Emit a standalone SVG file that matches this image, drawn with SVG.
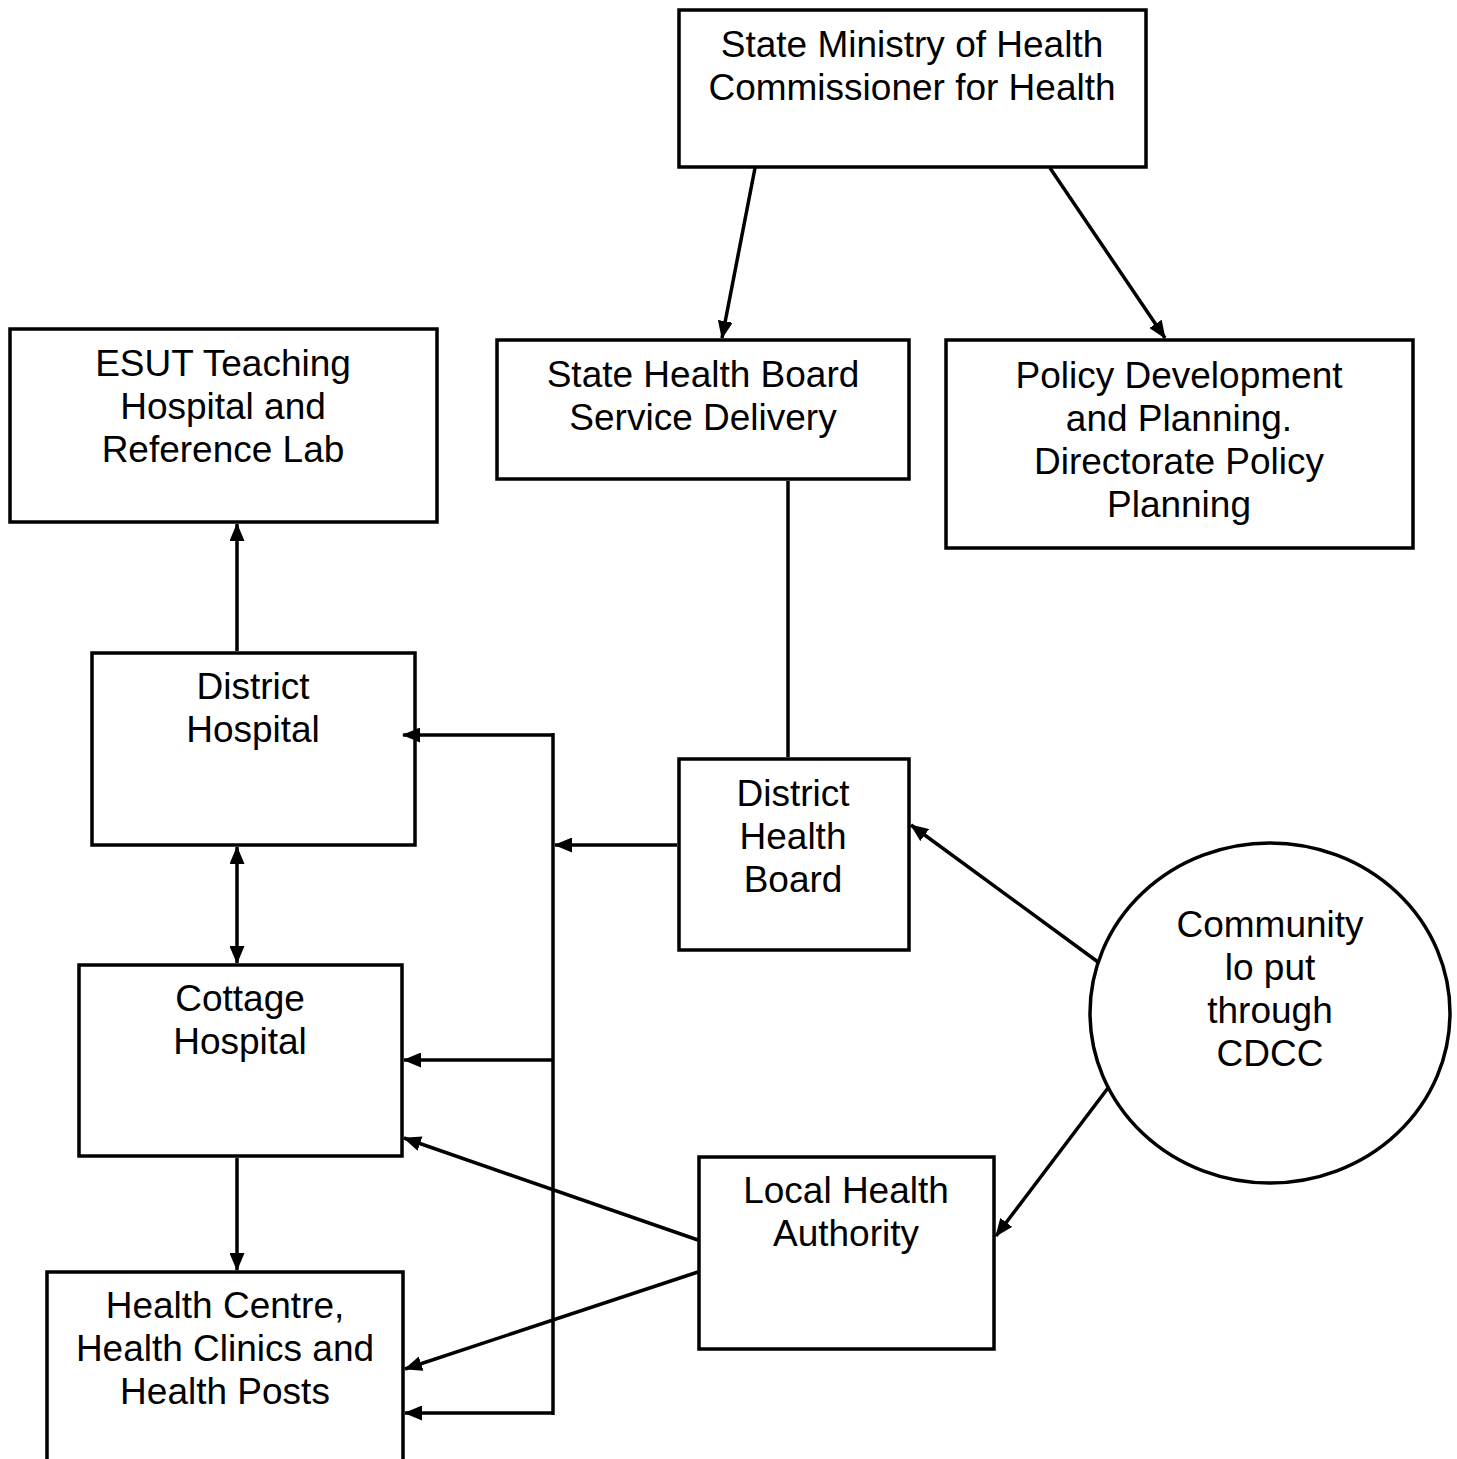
<svg xmlns="http://www.w3.org/2000/svg" width="1457" height="1459" viewBox="0 0 1457 1459">
<style>
.box{fill:#fff;stroke:#000;stroke-width:3.5}
.t{font-family:"Liberation Sans",Arial,sans-serif;font-size:37px;fill:#000;text-anchor:middle}
.c{fill:none;stroke:#000;stroke-width:3.5}
</style>
<defs>
<marker id="ah" markerUnits="userSpaceOnUse" markerWidth="18" markerHeight="15" refX="17" refY="7.5" orient="auto-start-reverse">
<path d="M0,0 L18,7.5 L0,15 Z" fill="#000"/>
</marker>
</defs>
<rect width="1457" height="1459" fill="#fff"/>
<g id="ministry"><rect class="box" x="679" y="10" width="467" height="157"/>
<text class="t" x="912" y="57">State Ministry of Health</text><text class="t" x="912" y="100">Commissioner for Health</text></g>
<g id="esut"><rect class="box" x="10" y="329" width="427" height="193"/>
<text class="t" x="223" y="376">ESUT Teaching</text><text class="t" x="223" y="419">Hospital and</text><text class="t" x="223" y="462">Reference Lab</text></g>
<g id="shb"><rect class="box" x="497" y="340" width="412" height="139"/>
<text class="t" x="703" y="387">State Health Board</text><text class="t" x="703" y="430">Service Delivery</text></g>
<g id="policy"><rect class="box" x="946" y="340" width="467" height="208"/>
<text class="t" x="1179" y="388">Policy Development</text><text class="t" x="1179" y="431">and Planning.</text><text class="t" x="1179" y="474">Directorate Policy</text><text class="t" x="1179" y="517">Planning</text></g>
<g id="district-hospital"><rect class="box" x="92" y="653" width="323" height="192"/>
<text class="t" x="253" y="699">District</text><text class="t" x="253" y="742">Hospital</text></g>
<g id="dhb"><rect class="box" x="679" y="759" width="230" height="191"/>
<text class="t" x="793" y="806">District</text><text class="t" x="793" y="849">Health</text><text class="t" x="793" y="892">Board</text></g>
<g id="community"><ellipse class="box" cx="1270" cy="1013" rx="180" ry="170"/>
<text class="t" x="1270" y="937">Community</text><text class="t" x="1270" y="980">lo put</text><text class="t" x="1270" y="1023">through</text><text class="t" x="1270" y="1066">CDCC</text></g>
<g id="cottage"><rect class="box" x="79" y="965" width="323" height="191"/>
<text class="t" x="240" y="1011">Cottage</text><text class="t" x="240" y="1054">Hospital</text></g>
<g id="lha"><rect class="box" x="699" y="1157" width="295" height="192"/>
<text class="t" x="846" y="1203">Local Health</text><text class="t" x="846" y="1246">Authority</text></g>
<g id="health-centre"><rect class="box" x="47" y="1272" width="356" height="200"/>
<text class="t" x="225" y="1318">Health Centre,</text><text class="t" x="225" y="1361">Health Clinics and</text><text class="t" x="225" y="1404">Health Posts</text></g>
<g id="connectors">
<line class="c" x1="755" y1="168" x2="722" y2="338" marker-end="url(#ah)"/>
<line class="c" x1="1050" y1="168" x2="1165" y2="338" marker-end="url(#ah)"/>
<line class="c" x1="788" y1="481" x2="788" y2="757"/>
<line class="c" x1="237" y1="651" x2="237" y2="524" marker-end="url(#ah)"/>
<line class="c" x1="237" y1="847" x2="237" y2="963" marker-start="url(#ah)" marker-end="url(#ah)"/>
<line class="c" x1="237" y1="1158" x2="237" y2="1270" marker-end="url(#ah)"/>
<line class="c" x1="677" y1="845" x2="555" y2="845" marker-end="url(#ah)"/>
<line class="c" x1="553" y1="733" x2="553" y2="1415"/>
<line class="c" x1="554" y1="735" x2="403" y2="735" marker-end="url(#ah)"/>
<line class="c" x1="554" y1="1060" x2="404" y2="1060" marker-end="url(#ah)"/>
<line class="c" x1="554" y1="1413" x2="405" y2="1413" marker-end="url(#ah)"/>
<line class="c" x1="698" y1="1240" x2="404" y2="1138" marker-end="url(#ah)"/>
<line class="c" x1="698" y1="1272" x2="405" y2="1369" marker-end="url(#ah)"/>
<line class="c" x1="1098" y1="962" x2="911" y2="825" marker-end="url(#ah)"/>
<line class="c" x1="1108" y1="1088" x2="996" y2="1236" marker-end="url(#ah)"/>
</g>
</svg>
